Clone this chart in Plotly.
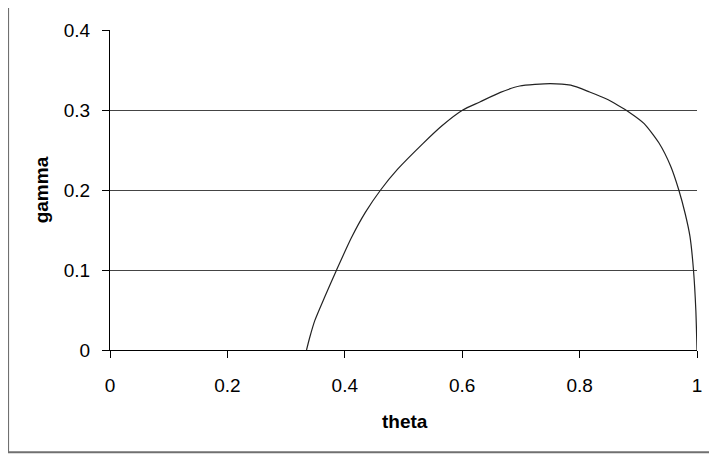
import plotly.graph_objects as go

theta = [0.3348, 0.340, 0.349, 0.365, 0.386, 0.411, 0.435, 0.461, 0.49, 0.533, 0.565, 0.601,
         0.63, 0.665, 0.698, 0.75, 0.785, 0.817, 0.845, 0.865, 0.885, 0.91, 0.935, 0.955,
         0.969, 0.98, 0.988, 0.994, 0.998, 1.0]
gamma = [0.0, 0.015, 0.037, 0.065, 0.1, 0.14, 0.172, 0.2, 0.226, 0.258, 0.28, 0.3,
         0.31, 0.322, 0.330, 0.333, 0.331, 0.3225, 0.314, 0.306, 0.297, 0.283, 0.259, 0.23,
         0.2, 0.17, 0.142, 0.1, 0.05, 0.0]

x_ticks = [0, 0.2, 0.4, 0.6, 0.8, 1]
x_tick_text = ["0", "0.2", "0.4", "0.6", "0.8", "1"]
y_ticks = [0, 0.1, 0.2, 0.3, 0.4]
y_tick_text = ["0", "0.1", "0.2", "0.3", "0.4"]

OFF = 8  # page body margin
W, H = 717 - OFF, 455 - OFF
L = 110 - OFF
T = 27.5 - OFF
R = W - (697.5 - OFF)
B = H - (350 - OFF)
pw, ph = W - L - R, H - T - B

def px(xp):  # screen pixel -> paper
    return (xp - OFF - L) / pw

def py(yp):
    return (H - B - (yp - OFF)) / ph

fig = go.Figure()
fig.add_trace(go.Scatter(x=theta, y=gamma, mode="lines",
                         line=dict(color="#222222", width=1.2, shape="spline", smoothing=0.6),
                         showlegend=False, cliponaxis=False))

font = dict(family="Liberation Sans, Arial, sans-serif", size=19, color="#000000")

fig.update_layout(
    width=W, height=H,
    margin=dict(l=L, r=R, t=T, b=B),
    paper_bgcolor="white", plot_bgcolor="white",
    font=font,
    xaxis=dict(range=[0, 1], tickvals=x_ticks, ticktext=x_tick_text,
               showgrid=False, zeroline=False, showline=True, linecolor="#000000",
               linewidth=1, ticks="outside", ticklen=7, tickcolor="#000000",
               tickfont=font, ticklabelstandoff=11),
    yaxis=dict(range=[0, 0.4], tickvals=y_ticks, ticktext=y_tick_text,
               showgrid=True, gridcolor="#444444", gridwidth=1,
               zeroline=False, showline=True, linecolor="#000000",
               linewidth=1, ticks="outside", ticklen=7, tickcolor="#000000",
               tickfont=font, ticklabelstandoff=8),
    annotations=[
        dict(text="<b>theta</b>", x=px(405), y=py(422), xref="paper", yref="paper",
             showarrow=False, xanchor="center", yanchor="middle", font=font),
        dict(text="<b>gamma</b>", x=px(41), y=py(189), xref="paper", yref="paper",
             showarrow=False, xanchor="center", yanchor="middle", textangle=-90, font=font),
    ],
    shapes=[
        dict(type="rect", xref="paper", yref="paper",
             x0=px(8), x1=px(730), y0=py(453), y1=py(-5),
             line=dict(color="#707070", width=2), fillcolor="rgba(0,0,0,0)", layer="below"),
    ],
)

fig.write_html("out.html")
